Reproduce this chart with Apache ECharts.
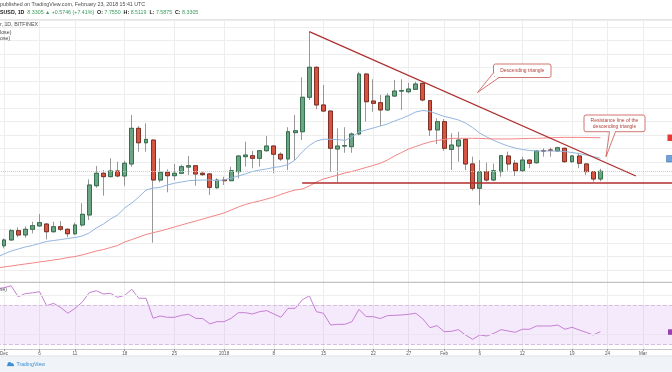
<!DOCTYPE html>
<html><head><meta charset="utf-8">
<script src="https://cdn.jsdelivr.net/npm/echarts@6/dist/echarts.min.js"></script>
<style>html,body{margin:0;padding:0;background:#fff}#c{width:672px;height:372px}</style>
</head><body><div id="c"></div>
<script>
// ---------- DATA ----------
const dates = ['2017-11-30',
'2017-12-01','2017-12-02','2017-12-03','2017-12-04','2017-12-05','2017-12-06','2017-12-07','2017-12-08','2017-12-09','2017-12-10',
'2017-12-11','2017-12-12','2017-12-13','2017-12-14','2017-12-15','2017-12-16','2017-12-17','2017-12-18','2017-12-19','2017-12-20',
'2017-12-21','2017-12-22','2017-12-23','2017-12-24','2017-12-25','2017-12-26','2017-12-27','2017-12-28','2017-12-29','2017-12-30','2017-12-31',
'2018-01-01','2018-01-02','2018-01-03','2018-01-04','2018-01-05','2018-01-06','2018-01-07','2018-01-08','2018-01-09','2018-01-10',
'2018-01-11','2018-01-12','2018-01-13','2018-01-14','2018-01-15','2018-01-16','2018-01-17','2018-01-18','2018-01-19','2018-01-20',
'2018-01-21','2018-01-22','2018-01-23','2018-01-24','2018-01-25','2018-01-26','2018-01-27','2018-01-28','2018-01-29','2018-01-30','2018-01-31',
'2018-02-01','2018-02-02','2018-02-03','2018-02-04','2018-02-05','2018-02-06','2018-02-07','2018-02-08','2018-02-09','2018-02-10',
'2018-02-11','2018-02-12','2018-02-13','2018-02-14','2018-02-15','2018-02-16','2018-02-17','2018-02-18','2018-02-19','2018-02-20',
'2018-02-21','2018-02-22','2018-02-23','2018-02-24','2018-02-25','2018-02-26','2018-02-27','2018-02-28',
'2018-03-01','2018-03-02','2018-03-03','2018-03-04','2018-03-05','2018-03-06'];

const candleStart = '2017-12-01';
const openV = [2.81,3.24,3.93,3.61,4.03,4.28,4.42,3.85,4.22,4.03,
3.70,4.35,5.09,7.26,8.18,7.93,8.35,7.98,8.87,11.51,
10.44,10.64,7.68,8.25,8.00,8.18,8.64,8.74,8.18,8.13,
7.11,7.68,7.63,8.30,9.41,9.48,9.29,9.85,10.20,9.59,
9.24,11.19,11.26,13.81,16.03,13.24,12.79,9.98,10.20,10.15,
11.09,15.53,13.53,13.41,12.87,13.90,14.27,14.22,14.40,14.84,
13.56,11.39,12.00,9.95,10.20,10.70,8.87,7.07,8.30,7.68,
8.30,9.46,8.92,8.37,9.16,8.96,9.85,9.90,9.83,10.03,
9.04,9.46,8.87,8.30,7.755];
const closeV = [3.24,3.93,3.61,4.03,4.30,4.52,3.85,4.22,4.03,3.70,
4.35,5.14,7.31,8.18,7.93,8.35,7.98,8.92,11.51,10.44,
10.69,7.68,8.25,8.00,8.18,8.67,8.74,8.13,8.08,7.14,
7.68,7.63,8.37,9.46,9.53,9.29,9.85,10.20,9.59,9.24,
11.26,11.33,13.81,16.03,13.24,12.79,10.03,10.20,10.22,11.09,
15.53,13.48,13.36,12.87,13.90,14.27,14.30,14.42,14.79,13.61,
11.39,12.00,10.03,10.27,10.64,8.87,7.07,8.30,7.68,8.37,
9.48,8.87,8.37,9.16,8.92,9.83,9.83,9.88,10.07,9.04,
9.46,8.92,8.30,7.755,8.3305];
const lowV = [2.62,3.20,3.44,3.40,3.73,4.22,3.29,3.78,3.90,3.44,
3.61,4.22,4.72,7.11,6.52,7.88,7.88,7.26,8.67,9.78,
9.78,3.04,7.51,6.77,7.68,8.12,8.05,7.26,7.98,6.57,
7.04,7.31,7.61,7.80,8.67,8.55,8.67,9.78,8.18,9.10,
8.42,9.16,10.64,13.61,12.92,12.74,8.30,7.51,9.70,9.70,
11.00,12.00,12.74,11.68,12.80,13.85,12.87,14.10,14.35,13.50,
10.94,10.35,9.85,8.42,9.04,8.42,6.89,5.83,7.56,7.60,
7.93,8.37,7.98,8.30,8.55,8.90,9.41,9.41,9.80,8.96,
8.96,8.55,8.05,7.56,7.5875];
const highV = [3.35,4.05,4.18,4.25,4.59,5.16,4.47,4.59,4.64,4.10,
4.52,5.96,7.73,8.72,8.42,9.29,9.04,9.11,12.50,11.68,
11.88,10.70,9.29,8.47,8.87,8.82,9.46,8.78,8.30,8.18,
7.80,7.93,8.67,9.50,10.52,9.83,9.90,10.94,10.25,9.73,
11.59,12.50,15.29,18.67,16.10,14.72,12.82,11.51,11.59,11.20,
15.70,15.58,15.14,13.98,14.10,15.09,15.14,14.88,14.96,14.90,
13.61,12.25,12.20,11.14,11.26,10.77,9.41,9.16,8.96,8.90,
9.53,9.78,9.16,9.41,9.21,9.90,10.03,10.08,10.15,10.08,
9.53,9.70,8.92,8.35,8.5119];

// moving averages and RSI (from 2017-11-30)
const maStart = '2017-11-30';
const maBlue = [1.98,2.20,2.42,2.57,2.72,2.83,2.98,3.13,3.20,3.27,
3.35,3.42,3.53,3.76,4.13,4.42,4.79,5.09,5.61,5.98,
6.42,6.94,7.08,7.14,7.31,7.44,7.53,7.63,7.66,7.68,
7.68,7.64,7.68,7.83,7.98,8.13,8.31,8.42,8.50,8.61,
8.68,8.83,9.16,9.76,10.24,10.57,10.70,10.70,10.68,10.61,
10.87,11.24,11.39,11.53,11.68,11.83,12.05,12.24,12.46,12.72,
12.83,12.76,12.57,12.39,12.27,12.13,11.90,11.57,11.16,10.87,
10.61,10.39,10.20,10.05,9.94,9.87,9.83,9.83,9.83,9.83,
9.79,9.72,9.64,9.53,9.42,9.29];
const maRed = [1.16,1.24,1.31,1.39,1.46,1.53,1.61,1.68,1.76,1.83,
1.94,2.01,2.13,2.27,2.42,2.53,2.68,2.83,3.09,3.27,
3.46,3.64,3.78,3.90,4.05,4.20,4.35,4.50,4.64,4.79,
4.94,5.09,5.24,5.46,5.68,5.87,6.01,6.13,6.27,6.42,
6.61,6.79,6.94,7.01,7.24,7.53,7.76,7.90,8.05,8.20,
8.31,8.46,8.61,8.76,8.92,9.16,9.46,9.72,9.98,10.16,
10.35,10.50,10.61,10.68,10.76,10.77,10.77,10.77,10.76,10.74,
10.72,10.72,10.72,10.73,10.75,10.76,10.77,10.79,10.81,10.83,
10.84,10.84,10.84,10.83,10.82,10.81];
const rsiV = [86.5,87.5,89.5,78.4,81.5,82.3,83.5,69.3,71.7,67.3,
61.6,66.6,72.7,82.5,84.5,81.1,81.8,77.8,79.8,85.9,
76.8,76.8,56.5,58.9,57.5,57.5,59.5,60.6,56.5,56.2,
50.8,53.1,53.1,56.5,62.2,62.2,60.9,63.2,64.3,60.9,
57.5,66.6,66.6,75.1,79.4,63.2,61.6,49.7,50.4,50.4,
53.1,65.6,58.2,58.2,56.2,59.2,59.5,59.9,60.6,61.6,
55.8,47.0,49.1,43.0,43.3,45.0,39.6,35.2,39.6,38.6,
41.3,45.0,43.7,42.3,45.4,45.4,48.7,48.7,48.7,49.7,
45.4,47.4,44.7,42.3,39.6,43.0];

const tickDates = ['2017-12-01','2017-12-06','2017-12-11','2017-12-18','2017-12-25','2018-01-01','2018-01-08','2018-01-15',
'2018-01-22','2018-01-27','2018-02-01','2018-02-06','2018-02-12','2018-02-19','2018-02-24','2018-03-01'];
const tickLabels = ['Dec','6','11','18','25','2018','8','15','22','27','Feb','6','12','19','24','Mar'];

// annotation anchors (date, price)
const triangleLine = [['2018-01-13', 18.67], ['2018-02-28', 7.98]];
const supportLine = [['2018-01-12', 7.51], ['2018-03-06', 7.51]];
const lastPrice = 8.3305;
const rsiBand = [30, 70];
const rsiGrid = [40, 80];

// ---------- BUILD ----------
const N = dates.length;
const cOff = dates.indexOf(candleStart), mOff = dates.indexOf(maStart);
const full = [], bodies = [], blue = [], red = [], rsi = [];
for (let i = 0; i < N; i++) {
  const k = i - cOff, m = i - mOff;
  if (k >= 0 && k < openV.length) {
    full.push([openV[k], closeV[k], lowV[k], highV[k]]);
    bodies.push([openV[k], closeV[k], Math.min(openV[k], closeV[k]), Math.max(openV[k], closeV[k])]);
  } else { full.push('-'); bodies.push('-'); }
  blue.push(m >= 0 && m < maBlue.length ? maBlue[m] : '-');
  red.push(m >= 0 && m < maRed.length ? maRed[m] : '-');
  rsi.push(m >= 0 && m < rsiV.length ? rsiV[m] : '-');
}
const tickIdx = new Set(tickDates.map(d => dates.indexOf(d)));
const tickMap = {}; tickDates.forEach((d, i) => tickMap[d] = tickLabels[i]);
const showTick = (idx) => tickIdx.has(idx);

const FONT = 'Liberation Sans';
const GRID_L = -3.1, GRID_R = -6.5;
const gridCol = '#ededed';

function txt(x, y, text, size, color, align, weight) {
  return {type: 'text', x: x, y: y, silent: true, z: 20,
    style: {text: text, fontSize: size, fontFamily: FONT, fill: color, align: align || 'left', verticalAlign: 'middle', fontWeight: weight || 'normal'}};
}

const calloutStroke = '#c4544f', calloutText = '#b2403b';

const option = {
  animation: false,
  backgroundColor: '#ffffff',
  grid: [
    {left: GRID_L, right: GRID_R, top: 20.45, height: 263.25, outerBoundsMode: 'none', containLabel: false},
    {left: GRID_L, right: GRID_R, top: 282, height: 67, outerBoundsMode: 'none', containLabel: false}
  ],
  xAxis: [
    {type: 'category', gridIndex: 0, data: dates, boundaryGap: false,
      axisLine: {show: false}, axisTick: {show: false}, axisLabel: {show: false},
      splitLine: {show: true, interval: (i) => showTick(i), lineStyle: {color: gridCol, width: 1}}},
    {type: 'category', gridIndex: 1, data: dates, boundaryGap: false,
      axisLine: {show: true, lineStyle: {color: '#c9c9c9', width: 1}},
      axisTick: {show: true, interval: (i) => showTick(i), length: 2, lineStyle: {color: '#9a9a9a'}},
      axisLabel: {show: true, interval: (i) => showTick(i), formatter: (v) => tickMap[v] || '',
        fontSize: 4.6, fontFamily: FONT, color: '#555555', margin: 2.2},
      splitLine: {show: true, interval: (i) => showTick(i), lineStyle: {color: gridCol, width: 1}}}
  ],
  yAxis: [
    {type: 'value', gridIndex: 0, min: 0, max: 19.5, interval: 1, position: 'right',
      axisLine: {show: false}, axisTick: {show: false}, axisLabel: {show: false},
      splitLine: {show: true, showMinLine: false, lineStyle: {color: gridCol, width: 1}}},
    {type: 'value', gridIndex: 1, min: 25.4, max: 93.3, position: 'right',
      axisLine: {show: false}, axisTick: {show: false}, axisLabel: {show: false}, splitLine: {show: false}}
  ],
  series: [
    {name: 'wicks', type: 'candlestick', xAxisIndex: 0, yAxisIndex: 0, data: full, barWidth: 4.4, silent: true, z: 2,
      itemStyle: {color: '#8c8c8c', color0: '#8c8c8c', borderColor: '#8c8c8c', borderColor0: '#8c8c8c', borderWidth: 0.9}},
    {name: 'bodies', type: 'candlestick', xAxisIndex: 0, yAxisIndex: 0, data: bodies, barWidth: 4.4, silent: true, z: 3,
      itemStyle: {color: '#6ba583', color0: '#d75442', borderColor: '#2f6b47', borderColor0: '#7a2a1f', borderWidth: 0.9},
      markLine: {silent: true, symbol: ['none', 'none'], label: {show: false}, animation: false,
        data: [
          {yAxis: lastPrice, lineStyle: {type: 'dotted', color: '#c3cfc6', width: 1}},
          [{coord: [dates.indexOf(triangleLine[0][0]), triangleLine[0][1]], lineStyle: {type: 'solid', color: '#ad2f2f', width: 1.3}},
           {coord: [dates.indexOf(triangleLine[1][0]), triangleLine[1][1]]}],
          [{coord: [dates.indexOf(supportLine[0][0]), supportLine[0][1]], lineStyle: {type: 'solid', color: '#b02c2c', width: 1.5}},
           {coord: [dates.indexOf(supportLine[1][0]), supportLine[1][1]]}]
        ]}},
    {name: 'MA blue', type: 'line', xAxisIndex: 0, yAxisIndex: 0, data: blue, symbol: 'none', silent: true, z: 4,
      lineStyle: {color: '#93b6de', width: 1}},
    {name: 'MA red', type: 'line', xAxisIndex: 0, yAxisIndex: 0, data: red, symbol: 'none', silent: true, z: 4,
      lineStyle: {color: '#f28585', width: 1}},
    {name: 'RSI', type: 'line', xAxisIndex: 1, yAxisIndex: 1, data: rsi, symbol: 'none', silent: true, z: 4,
      lineStyle: {color: '#c57fd3', width: 1},
      markArea: {silent: true, itemStyle: {color: 'rgba(190,120,235,0.16)'},
        data: [[{yAxis: rsiBand[0]}, {yAxis: rsiBand[1]}]]},
      markLine: {silent: true, symbol: ['none', 'none'], label: {show: false}, animation: false,
        data: [
          {yAxis: rsiGrid[0], lineStyle: {type: 'solid', color: '#ebe3ef', width: 1}},
          {yAxis: rsiGrid[1], lineStyle: {type: 'solid', color: '#eeeeee', width: 1}},
          {yAxis: rsiBand[0], lineStyle: {type: 'dashed', color: '#d2bfe0', width: 1}},
          {yAxis: rsiBand[1], lineStyle: {type: 'dashed', color: '#d2bfe0', width: 1}}
        ]}}
  ],
  graphic: [
    // header
    {type: 'line', silent: true, shape: {x1: 0, y1: 19.5, x2: 672, y2: 19.5}, style: {stroke: '#e3e3e3', lineWidth: 1}},
    txt(0, 5, 'published on TradingView.com, February 23, 2018 15:41 UTC', 5.3, '#4a4a4a'),
    {type: 'text', x: 0, y: 12.5, silent: true, z: 20, style: {
      text: '{k|SUSD, 1D}  {g|8.3305 \u25B2 +0.5746 (+7.41%)}  {k|O:} {g|7.7550}  {k|H:} {g|8.5119}  {k|L:} {g|7.5875}  {k|C:} {g|8.3305}',
      fontSize: 5.3, fontFamily: FONT, verticalAlign: 'middle',
      rich: {k: {fontSize: 5.3, fontFamily: FONT, fill: '#222222', color: '#222222', fontWeight: 'bold'},
             g: {fontSize: 5.3, fontFamily: FONT, fill: '#3c9a5c', color: '#3c9a5c'}}}},
    txt(0, 25, 'r, 1D, BITFINEX', 5.3, '#4a4a4a'),
    txt(0, 32.2, 'lose)', 5.3, '#4a4a4a'),
    txt(0, 38.8, 'ose)', 5.3, '#4a4a4a'),
    // pane separator
    {type: 'line', silent: true, z: 15, shape: {x1: 0, y1: 282.3, x2: 672, y2: 282.3}, style: {stroke: '#b3b3b3', lineWidth: 1}},
    txt(0, 290, 'se)', 5, '#555555'),
    // callout 1
    {type: 'rect', silent: true, z: 18, shape: {x: 493.5, y: 64, width: 57.5, height: 13.5, r: 2},
      style: {fill: '#ffffff', stroke: calloutStroke, lineWidth: 0.8}},
    {type: 'polygon', silent: true, z: 18, shape: {points: [[494.1, 72.6], [477.5, 92.5], [499, 76.9], [494.1, 76.9]]},
      style: {fill: '#ffffff'}},
    {type: 'polyline', silent: true, z: 18, shape: {points: [[493.5, 72.8], [477.5, 92.5], [499, 77.5]]},
      style: {fill: null, stroke: calloutStroke, lineWidth: 0.8}},
    txt(522.3, 70.8, 'Descending triangle', 5, calloutText, 'center'),
    // callout 2
    {type: 'rect', silent: true, z: 18, shape: {x: 584, y: 115, width: 61, height: 16.7, r: 2},
      style: {fill: '#ffffff', stroke: calloutStroke, lineWidth: 0.8}},
    {type: 'polygon', silent: true, z: 18, shape: {points: [[609.6, 131.1], [606, 156.7], [615.4, 131.1]]},
      style: {fill: '#ffffff'}},
    {type: 'polyline', silent: true, z: 18, shape: {points: [[609.5, 131.7], [606, 156.7], [615.5, 131.7]]},
      style: {fill: null, stroke: calloutStroke, lineWidth: 0.8}},
    txt(614.5, 120.3, 'Resistance line of the', 5, calloutText, 'center'),
    txt(614.5, 126.3, 'descending triangle', 5, calloutText, 'center'),
    // cropped price-scale labels at the right edge
    {type: 'rect', silent: true, z: 18, shape: {x: 667.5, y: 134.5, width: 8, height: 6.5}, style: {fill: '#e53935'}},
    {type: 'rect', silent: true, z: 18, shape: {x: 666.5, y: 155.5, width: 8, height: 6.5}, style: {fill: '#6fa0d8', stroke: '#3d78bd', lineWidth: 0.6}},
    {type: 'rect', silent: true, z: 18, shape: {x: 668, y: 329.3, width: 8, height: 5.5}, style: {fill: '#9c3fb0'}},
    // bottom band
    {type: 'rect', silent: true, z: 15, shape: {x: 0, y: 356, width: 672, height: 16}, style: {fill: '#f0f3f7'}},
    {type: 'line', silent: true, z: 16, shape: {x1: 0, y1: 356, x2: 672, y2: 356}, style: {stroke: '#dde2e8', lineWidth: 1}},
    {type: 'circle', silent: true, z: 16, shape: {cx: 9.5, cy: 364, r: 2}, style: {fill: '#3d8fd6'}},
    {type: 'circle', silent: true, z: 16, shape: {cx: 12, cy: 364.6, r: 1.6}, style: {fill: '#3d8fd6'}},
    {type: 'rect', silent: true, z: 16, shape: {x: 7, y: 364.8, width: 7, height: 1.3}, style: {fill: '#3d8fd6'}},
    txt(16.5, 364.3, 'TradingView', 5.2, '#3d8fd6')
  ]
};

const chart = echarts.init(document.getElementById('c'), null, {renderer: 'canvas', width: 672, height: 372});
chart.setOption(option);
</script>
</body></html>
